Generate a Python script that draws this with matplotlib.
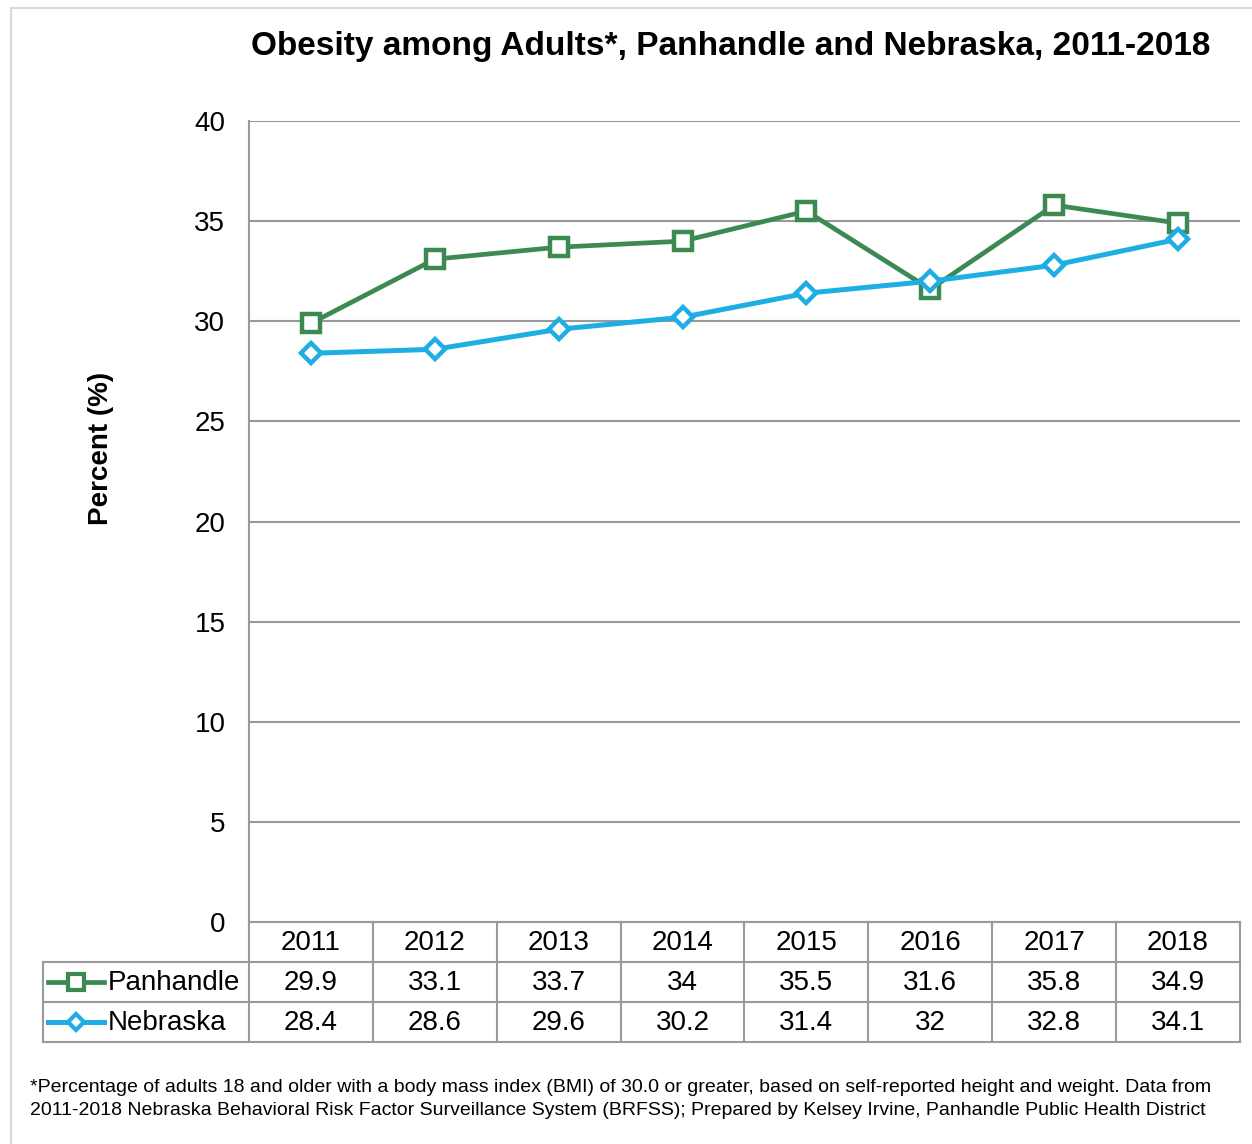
import matplotlib
matplotlib.use("Agg")
import matplotlib.pyplot as plt
from matplotlib.patches import Rectangle

years = ["2011", "2012", "2013", "2014", "2015", "2016", "2017", "2018"]
panhandle = [29.9, 33.1, 33.7, 34.0, 35.5, 31.6, 35.8, 34.9]
nebraska = [28.4, 28.6, 29.6, 30.2, 31.4, 32.0, 32.8, 34.1]
panhandle_labels = ["29.9", "33.1", "33.7", "34", "35.5", "31.6", "35.8", "34.9"]
nebraska_labels = ["28.4", "28.6", "29.6", "30.2", "31.4", "32", "32.8", "34.1"]
yticks = [0, 5, 10, 15, 20, 25, 30, 35, 40]

W, H = 1252, 1144
GREEN = "#3c8a52"
BLUE = "#1eaee4"
GRID = "#999999"
TBL = "#9a9a9a"

plt.rcParams["font.family"] = ["Liberation Sans", "DejaVu Sans"]

fig = plt.figure(figsize=(W / 100, H / 100), dpi=100)

def fx(px):
    return px / W

def fy(py):
    return 1 - py / H

# outer light border
fig.patches.append(Rectangle((fx(11), fy(1160)), fx(1260) - fx(11), fy(8) - fy(1160),
                             transform=fig.transFigure, fill=False,
                             edgecolor="#d9d9d9", linewidth=1.5))

L, R, T, B = 249, 1240, 121, 922
ax = fig.add_axes([fx(L), fy(B), fx(R) - fx(L), fy(T) - fy(B)])
n = len(years)
xs = list(range(n))
ax.set_xlim(-0.5, n - 0.5)
ax.set_ylim(0, 40)
ax.set_yticks(yticks)
ax.set_yticklabels([str(v) for v in yticks], fontsize=20)
ax.tick_params(axis="y", length=0, pad=17)
ax.set_xticks([])
for s in ["top", "right", "bottom"]:
    ax.spines[s].set_visible(False)
ax.spines["left"].set_color(TBL)
ax.spines["left"].set_linewidth(1.5)
ax.grid(axis="y", color=GRID, linewidth=1.5)
ax.set_axisbelow(True)

ax.plot(xs, panhandle, color=GREEN, linewidth=3.4, marker="s", markersize=13,
        markerfacecolor="white", markeredgecolor=GREEN, markeredgewidth=3.2, zorder=3)
ax.plot(xs, nebraska, color=BLUE, linewidth=3.6, marker="D", markersize=10,
        markerfacecolor="white", markeredgecolor=BLUE, markeredgewidth=3.2, zorder=4)

# title and y label
fig.text(fx(731), fy(46), "Obesity among Adults*, Panhandle and Nebraska, 2011-2018",
         ha="center", va="center", fontsize=24, fontweight="bold")
fig.text(fx(101), fy(448), "Percent (%)", rotation=90, ha="center", va="center",
         fontsize=20, fontweight="bold")

# data table
TL, TB = 43, 1042
colw = (R - L) / n
ax_t = fig.add_axes([fx(TL), fy(TB), fx(R) - fx(TL), fy(B) - fy(TB)])
left_units = (L - TL) / colw
ax_t.set_xlim(-0.5 - left_units, n - 0.5)
ax_t.set_ylim(3, 0)
ax_t.axis("off")
x0 = -0.5 - left_units
lw = 1.5
ax_t.plot([-0.5, n - 0.5], [0, 0], color=TBL, lw=lw, clip_on=False)
for yy in [1, 2, 3]:
    ax_t.plot([x0, n - 0.5], [yy, yy], color=TBL, lw=lw, clip_on=False)
ax_t.plot([x0, x0], [1, 3], color=TBL, lw=lw, clip_on=False)
for i in range(n + 1):
    ax_t.plot([i - 0.5, i - 0.5], [0, 3], color=TBL, lw=lw, clip_on=False)

FS = 20
for i in range(n):
    ax_t.text(i, 0.53, years[i], ha="center", va="center", fontsize=FS)
    ax_t.text(i, 1.53, panhandle_labels[i], ha="center", va="center", fontsize=FS)
    ax_t.text(i, 2.53, nebraska_labels[i], ha="center", va="center", fontsize=FS)

# legend keys
k0 = x0 + 5 / colw
k1 = x0 + 61 / colw
km = (k0 + k1) / 2
ax_t.plot([k0, k1], [1.5, 1.5], color=GREEN, lw=3.4, clip_on=False)
ax_t.plot([km], [1.5], marker="s", markersize=11, markerfacecolor="white",
          markeredgecolor=GREEN, markeredgewidth=3, clip_on=False)
ax_t.plot([k0, k1], [2.5, 2.5], color=BLUE, lw=3.6, clip_on=False)
ax_t.plot([km], [2.5], marker="D", markersize=8, markerfacecolor="white",
          markeredgecolor=BLUE, markeredgewidth=3, clip_on=False)
ax_t.text(x0 + 65 / colw, 1.53, "Panhandle", ha="left", va="center", fontsize=FS)
ax_t.text(x0 + 65 / colw, 2.53, "Nebraska", ha="left", va="center", fontsize=FS)

# footnote
foot = ("*Percentage of adults 18 and older with a body mass index (BMI) of 30.0 or greater, "
        "based on self-reported height and weight. Data from\n"
        "2011-2018 Nebraska Behavioral Risk Factor Surveillance System (BRFSS); "
        "Prepared by Kelsey Irvine, Panhandle Public Health District")
fig.text(fx(30), fy(1099), foot, ha="left", va="center", fontsize=14,
         family=["Liberation Sans", "DejaVu Sans"], linespacing=1.45)

fig.savefig("out.png", dpi=100)
